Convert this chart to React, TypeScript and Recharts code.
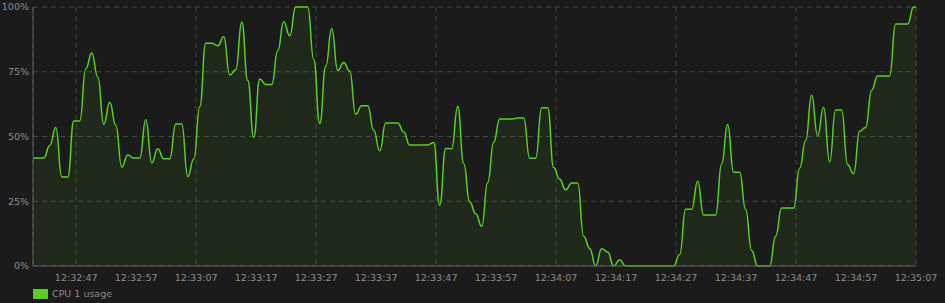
import { AreaChart, Area, XAxis, YAxis, CartesianGrid } from "recharts";

// one sample per second; first sample is 39.6 s after 12:32:00
const firstSampleSec = 39.6;

const cpuUsage = [
    41.7, 41.7, 41.7, 46.5, 53.5, 34.4, 34.4, 56, 56, 76.2, 82.2, 73, 54.7,
    63.2, 54.3, 38.2, 42.9, 41.7, 41.7, 56.5, 39.8, 45.3, 41.4, 41.4, 54.8,
    54.8, 34.5, 41.3, 61.6, 86, 86, 85, 88.5, 73.7, 75.8, 94.2, 71.6, 49.7,
    72.2, 70.1, 70.1, 83.1, 94.3, 88.9, 100, 100, 100, 79.7, 55, 77.1, 91.6,
    75.5, 78.6, 75.2, 58.6, 61.9, 61.9, 52.4, 44.5, 55.2, 55.2, 55.2, 51.7,
    46.7, 46.7, 46.7, 46.7, 47.7, 23.5, 45.4, 45.3, 61.6, 39.6, 24.8, 20.2,
    15.3, 32.2, 47.7, 56.8, 56.8, 56.8, 57.1, 57.1, 41.6, 41.6, 61.1, 61.1,
    38, 33.5, 29.4, 32, 32, 11.5, 6.8, 0, 6.7, 5.4, 0, 2.4, 0, 0, 0, 0, 0, 0,
    0, 0, 0, 4.4, 21.9, 21.9, 32.7, 19.7, 19.7, 19.7, 39.5, 54.6, 36.2, 36.2,
    21.8, 6, 0, 0, 0, 11.5, 22.4, 22.4, 22.4, 37.7, 48.5, 65.9, 50.3, 61.3,
    40.2, 60.2, 60.2, 39.1, 35.6, 52, 53.5, 67.8, 73.4, 73.4, 73.4, 93.4,
    93.4, 93.4, 100, 100
];

const timeTicks = [47, 57, 67, 77, 87, 97, 107, 117, 127, 137, 147, 157, 167, 177, 187];
const timeLabels = [
    "12:32:47", "12:32:57", "12:33:07", "12:33:17", "12:33:27",
    "12:33:37", "12:33:47", "12:33:57", "12:34:07", "12:34:17",
    "12:34:27", "12:34:37", "12:34:47", "12:34:57", "12:35:07"
];
const percentTicks = [0, 25, 50, 75, 100];

const data = cpuUsage.map((v, i) => ({ t: firstSampleSec + i, v }));

const colors = {
    bg: "#1b1b1b",
    line: "#5ccf1a",
    grid: "#444444",
    axis: "#5c5c5c",
    text: "#8a8a8a"
};

const font = "'DejaVu Sans', sans-serif";

export default function App() {
    return (
        <div
            style={{
                position: "relative",
                width: 945,
                height: 303,
                background: colors.bg
            }}
        >
            <style>{`body{margin:0;background:${colors.bg}}`}</style>
            <AreaChart
                width={945}
                height={303}
                data={data}
                margin={{ top: 7, right: 29, left: 0, bottom: 0 }}
            >
                <CartesianGrid
                    stroke={colors.grid}
                    strokeDasharray="5 4"
                    horizontalValues={percentTicks}
                />
                <XAxis
                    type="number"
                    dataKey="t"
                    domain={[39.8, 187]}
                    allowDataOverflow
                    ticks={timeTicks}
                    tickFormatter={(v) => timeLabels[timeTicks.indexOf(v)]}
                    height={37}
                    tickLine={false}
                    tickSize={0}
                    tickMargin={8}
                    axisLine={{ stroke: colors.axis }}
                    tick={{ fill: colors.text, fontSize: 9.5, fontFamily: font }}
                />
                <YAxis
                    domain={[0, 100]}
                    ticks={percentTicks}
                    tickFormatter={(v) => `${v}%`}
                    width={33}
                    tickLine={false}
                    tickSize={0}
                    tickMargin={4}
                    axisLine={{ stroke: colors.axis }}
                    tick={{ fill: colors.text, fontSize: 9.5, fontFamily: font }}
                />
                <Area
                    type="bumpX"
                    dataKey="v"
                    stroke={colors.line}
                    strokeWidth={1.5}
                    fill={colors.line}
                    fillOpacity={0.08}
                    dot={false}
                    activeDot={false}
                    isAnimationActive={false}
                />
            </AreaChart>
            {/* legend */}
            <div
                style={{
                    position: "absolute",
                    left: 33,
                    top: 288,
                    display: "flex",
                    alignItems: "center",
                    fontFamily: font,
                    fontSize: 9.5,
                    color: colors.text
                }}
            >
                <span
                    style={{
                        display: "inline-block",
                        width: 15,
                        height: 10,
                        background: colors.line,
                        marginRight: 4
                    }}
                />
                CPU 1 usage
            </div>
        </div>
    );
}
